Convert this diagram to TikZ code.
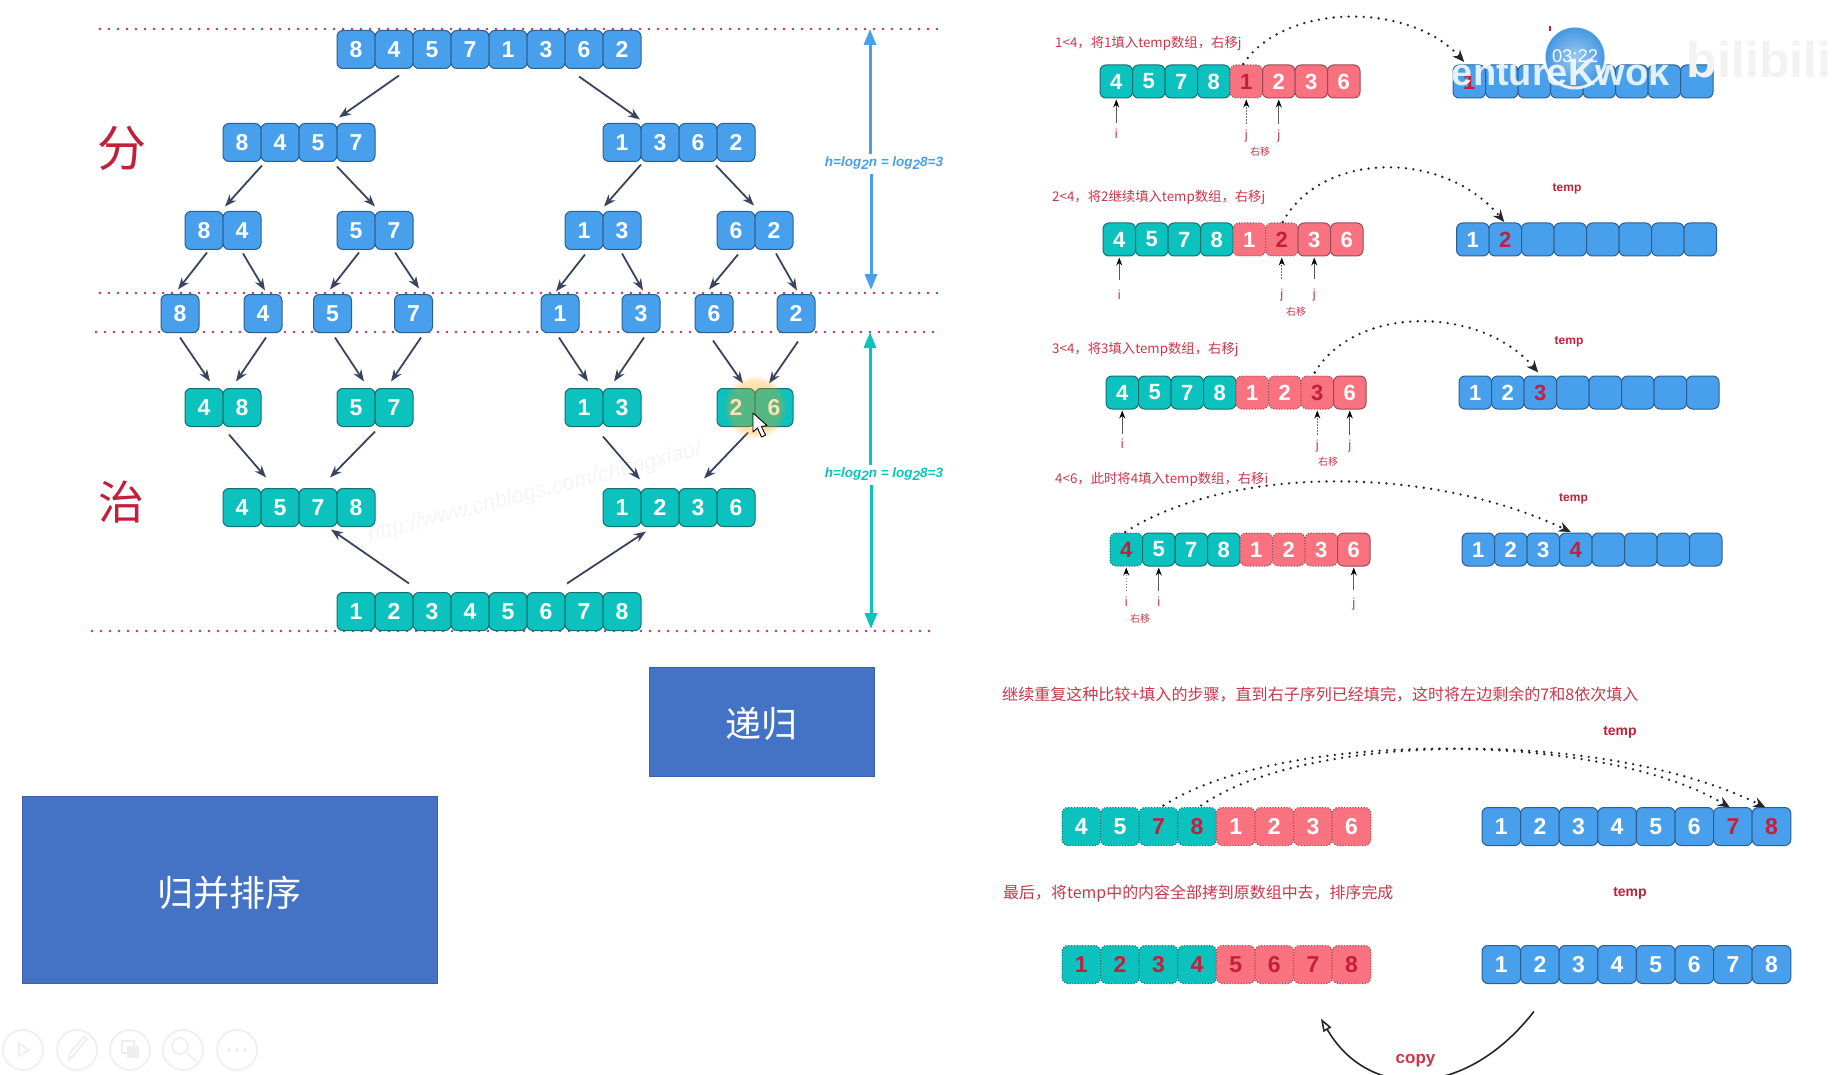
\documentclass[tikz,border=0pt]{standalone}
\usepackage{fontspec}
\setmainfont{Liberation Sans}
\newfontfamily\cjk{Noto Sans CJK SC}
\usetikzlibrary{arrows.meta,fadings}
\definecolor{cblue}{HTML}{489FEC}
\definecolor{cblueb}{HTML}{2B5F92}
\definecolor{cteal}{HTML}{0CC2BE}
\definecolor{ctealb}{HTML}{14706F}
\definecolor{cpink}{HTML}{F8737F}
\definecolor{cpinkb}{HTML}{9A4A55}
\definecolor{cred}{HTML}{C2203A}
\definecolor{ctxt}{HTML}{C8384A}
\definecolor{cdark}{HTML}{3A4460}
\definecolor{cbox}{HTML}{4472C4}
\definecolor{cdots}{HTML}{C2305A}
\definecolor{cfaint}{HTML}{EEEEEE}
\tikzset{
  cuse/.code={\expandafter\tikzset\expandafter{#1}},
  cell/.style={rounded corners=6pt,line width=1pt,inner sep=0pt,outer sep=0pt,text=white},
  cb/.style={fill=cblue,draw=cblueb},
  cbr/.style={fill=cblue,draw=cblueb,text=cred},
  ct/.style={fill=cteal,draw=ctealb},
  ctd/.style={fill=cteal,draw=ctealb,dash pattern=on 1.2pt off 1.6pt},
  ctdr/.style={fill=cteal,draw=ctealb,dash pattern=on 1.2pt off 1.6pt,text=cred},
  cp/.style={fill=cpink,draw=cpinkb},
  cpd/.style={fill=cpink,draw=cpinkb,dash pattern=on 1.2pt off 1.6pt},
  cpdr/.style={fill=cpink,draw=cpinkb,dash pattern=on 1.2pt off 1.6pt,text=cred},
  conn/.style={draw=cdark,line width=1.8pt,-{Stealth[length=12pt,width=9pt]}},
  levelline/.style={draw=cdots,line width=2.7pt,line cap=round,dash pattern=on 0pt off 9pt},
  jump/.style={draw=black!85,line width=2.6pt,line cap=round,dash pattern=on 0pt off 7.5pt,-{Stealth[length=12pt,width=10pt]}},
  psolid/.style={draw=black!65,line width=1pt,-{Stealth[length=8pt,width=6pt,black]}},
  pdot/.style={draw=black!55,line width=.9pt,dash pattern=on 1.5pt off 1.5pt,-{Stealth[length=8pt,width=6pt,black]}},
  plab/.style={text=ctxt,inner sep=0pt,font=\fontsize{13}{13}\selectfont},
  moved/.style={text=ctxt,inner sep=0pt,font=\cjk\fontsize{10}{10}\selectfont},
  note/.style={text=ctxt,inner sep=0pt,anchor=west},
  templab/.style={text=cred,inner sep=0pt,font=\bfseries\fontsize{12}{12}\selectfont},
  bigbox/.style={fill=cbox,draw=cbox!85!black,line width=.6pt,inner sep=0pt,text=white,font=\cjk\fontsize{36}{36}\selectfont,text depth=0pt},
  hlab/.style={inner sep=0pt,font=\bfseries\itshape\fontsize{13.5}{13.5}\selectfont},
  harrow/.style={line width=3pt,-{Triangle[length=16pt,width=12pt]}},
  tool/.style={draw=cfaint,line width=1.6pt},
}
\newcommand{\cellrow}[7]{%
  \foreach \st/\dg [count=\ci] in {#7} {%
    \node[cell,cuse=\st,minimum width=#4pt,minimum height=#5pt,font=\bfseries\fontsize{#6}{#6}\selectfont] (#1\ci) at ({#2+#4*(\ci-0.5)},#3) {\dg};
  }}
\newcommand{\cn}[6]{\draw[conn] ([shift={(#2,#3)}]#1.south) -- ([shift={(#5,#6)}]#4.north);}
\newcommand{\cnu}[6]{\draw[conn] ([shift={(#2,#3)}]#1.north) -- ([shift={(#5,#6)}]#4.south);}
% cell, style, letter, label y, node name, gap below the label
\newcommand{\pointer}[6]{%
  \coordinate (tmpy) at (0,#4);
  \node[plab] (#5) at (#1.south |- tmpy) {#3};
  \draw[#2,shorten <=#6pt,shorten >=1.5pt] (#5.north) -- (#1.south);}
\begin{document}
\begin{tikzpicture}[x=1pt,y=-1pt]
\useasboundingbox (0,0) rectangle (1843,1075);
\clip (0,0) rectangle (1843,1075);
\fill[white] (0,0) rectangle (1843,1075);

% faint page watermark
\node[rotate=14.6,text=black!4,inner sep=0pt,font=\itshape\fontsize{22}{22}\selectfont] (pagemark) at (535,493) {http://www.cnblogs.com/chengxiao/};

% level lines
\coordinate (la) at (100,29); \coordinate (lb) at (943,29);
\coordinate (lc) at (100,293); \coordinate (ld) at (943,293);
\coordinate (le) at (96,332); \coordinate (lf) at (938,332);
\coordinate (lg) at (92,631); \coordinate (lh) at (935,631);
\draw[levelline] (la) -- (lb);
\draw[levelline] (lc) -- (ld);
\draw[levelline] (le) -- (lf);
\draw[levelline] (lg) -- (lh);

% divide tree
\cellrow{t}{337}{49.5}{38}{38}{23}{cb/8,cb/4,cb/5,cb/7,cb/1,cb/3,cb/6,cb/2}
\cellrow{a}{223}{142.5}{38}{38}{23}{cb/8,cb/4,cb/5,cb/7}
\cellrow{b}{603}{142.5}{38}{38}{23}{cb/1,cb/3,cb/6,cb/2}
\cellrow{c}{185}{230.5}{38}{38}{23}{cb/8,cb/4}
\cellrow{d}{337}{230.5}{38}{38}{23}{cb/5,cb/7}
\cellrow{e}{565}{230.5}{38}{38}{23}{cb/1,cb/3}
\cellrow{f}{717}{230.5}{38}{38}{23}{cb/6,cb/2}
\cellrow{gA}{161}{313.5}{38}{38}{23}{cb/8}
\cellrow{gB}{244}{313.5}{38}{38}{23}{cb/4}
\cellrow{gC}{313.5}{313.5}{38}{38}{23}{cb/5}
\cellrow{gD}{394.5}{313.5}{38}{38}{23}{cb/7}
\cellrow{gE}{541}{313.5}{38}{38}{23}{cb/1}
\cellrow{gF}{622}{313.5}{38}{38}{23}{cb/3}
\cellrow{gG}{695}{313.5}{38}{38}{23}{cb/6}
\cellrow{gH}{777}{313.5}{38}{38}{23}{cb/2}
% conquer tree
\cellrow{h}{185}{407.5}{38}{38}{23}{ct/4,ct/8}
\cellrow{i}{337}{407.5}{38}{38}{23}{ct/5,ct/7}
\cellrow{j}{565}{407.5}{38}{38}{23}{ct/1,ct/3}
\cellrow{k}{717}{407.5}{38}{38}{23}{ct/2,ct/6}
\cellrow{m}{223}{507.5}{38}{38}{23}{ct/4,ct/5,ct/7,ct/8}
\cellrow{n}{603}{507.5}{38}{38}{23}{ct/1,ct/2,ct/3,ct/6}
\cellrow{p}{337}{611.5}{38}{38}{23}{ct/1,ct/2,ct/3,ct/4,ct/5,ct/6,ct/7,ct/8}

\cn{t2}{5}{7}{a4}{-17}{-6}
\cn{t7}{-5}{8}{b1}{18}{-4}
\cn{a1}{20}{4}{c1}{21}{-5}
\cn{a3}{19}{5}{d1}{19}{-5}
\cn{b1}{19}{3}{e1}{20}{-5}
\cn{b3}{18}{4}{f1}{18}{-6}
\cn{c1}{3}{3}{gA1}{-2}{-5}
\cn{c2}{1}{4}{gB1}{2}{-4}
\cn{d1}{3}{3}{gC1}{-2.5}{-5}
\cn{d2}{1}{3}{gD1}{5.5}{-6}
\cn{e1}{1}{5}{gE1}{-4}{-3}
\cn{e2}{0}{4}{gF1}{2}{-4}
\cn{f1}{2}{5}{gG1}{-5}{-5}
\cn{f2}{2}{4}{gH1}{1}{-4}
\cn{gA1}{0}{5}{h1}{6}{-7}
\cn{gB1}{3}{5}{h2}{-6}{-7}
\cn{gC1}{2.5}{5}{i1}{8}{-7}
\cn{gD1}{7.5}{5}{i2}{-3}{-7}
\cn{gE1}{-1}{5}{j1}{4}{-7}
\cn{gF1}{3}{5}{j2}{-8}{-7}
\cn{gG1}{-1}{8}{k1}{7}{-5}
\cn{gH1}{2}{9}{k2}{-5}{-5}
\cn{h2}{-13}{8}{m2}{-14}{-11}
\cn{i1}{19}{5}{m3}{12}{-11}
\cn{j1}{19}{10}{n1}{18}{-9}
\cn{k1}{12}{6}{n3}{6}{-10}
\cnu{p2}{15}{-9}{m3}{13}{3}
\cnu{p6}{21}{-9}{n2}{-14}{5}

% height labels and arrows
\node[hlab,text=cblue] (hA) at (884,163.5) {h=log\raisebox{-3pt}{2}n = log\raisebox{-3pt}{2}8=3};
\node[hlab,text=cteal] (hB) at (884,474.5) {h=log\raisebox{-3pt}{2}n = log\raisebox{-3pt}{2}8=3};
\coordinate (hAt) at (870,29); \coordinate (hAb) at (871,290);
\coordinate (hBt) at (870,332); \coordinate (hBb) at (871,629);
\draw[harrow,draw=cblue,fill=cblue,shorten <=3pt] ([xshift=-14pt]hA.north) -- (hAt);
\draw[harrow,draw=cblue,fill=cblue,shorten <=4pt] ([xshift=-13pt]hA.south) -- (hAb);
\draw[harrow,draw=cteal,fill=cteal,shorten <=3pt] ([xshift=-14pt]hB.north) -- (hBt);
\draw[harrow,draw=cteal,fill=cteal,shorten <=4pt] ([xshift=-13pt]hB.south) -- (hBb);

% red characters
\node[inner sep=0pt,text=cred,font=\cjk\fontsize{49}{49}\selectfont] (fen) at (122,148) {分};
\node[inner sep=0pt,text=cred,font=\cjk\fontsize{46}{46}\selectfont] (zhi) at (121,502) {治};

% blue boxes
\node[bigbox,text height=32.5pt,minimum width=225pt,minimum height=109pt] (digui) at (761.5,721.5) {递归};
\node[bigbox,text height=34.5pt,minimum width=415pt,minimum height=187pt] (guibing) at (229.5,889.5) {归并排序};

% step rows
\node[note,font=\cjk\fontsize{13.35}{13.35}\selectfont] (nA) at (1055,43.2) {1<4，将1填入temp数组，右移j};
\cellrow{Aa}{1100}{81.5}{32.5}{33}{22}{ct/4,ct/5,ct/7,ct/8,cpdr/1,cp/2,cp/3,cp/6}
\cellrow{At}{1453}{81.5}{32.5}{33}{22}{cbr/1,cb/{},cb/{},cb/{},cb/{},cb/{},cb/{},cb/{}}
\pointer{Aa1}{psolid}{i}{134}{Ap1}{6}
\pointer{Aa5}{pdot}{j}{136}{Ap2}{6}
\pointer{Aa6}{psolid}{j}{136}{Ap3}{6}
\node[moved] (Am) at (1260,152) {右移};
\draw[jump] ([shift={(-3,-1)}]Aa5.north) .. controls (1285,2) and (1410,2) .. ([shift={(-5,-3)}]At1.north);

\node[note,font=\cjk\fontsize{13.35}{13.35}\selectfont] (nB) at (1052,197.2) {2<4，将2继续填入temp数组，右移j};
\cellrow{Ba}{1103}{239.5}{32.5}{33}{22}{ct/4,ct/5,ct/7,ct/8,cpd/1,cpdr/2,cp/3,cp/6}
\cellrow{Bt}{1456.5}{239.5}{32.5}{33}{22}{cb/1,cbr/2,cb/{},cb/{},cb/{},cb/{},cb/{},cb/{}}
\node[templab] (tB) at (1567,189.3) {temp};
\pointer{Ba1}{psolid}{i}{295}{Bp1}{10}
\pointer{Ba6}{pdot}{j}{295}{Bp2}{10}
\pointer{Ba7}{psolid}{j}{295}{Bp3}{10}
\node[moved] (Bm) at (1296,312) {右移};
\draw[jump] ([shift={(1,-1)}]Ba6.north) .. controls (1322,150) and (1445,150) .. ([shift={(-1,-1)}]Bt2.north);

\node[note,font=\cjk\fontsize{13.35}{13.35}\selectfont] (nC) at (1052,349.5) {3<4，将3填入temp数组，右移j};
\cellrow{Ca}{1106}{392.5}{32.5}{33}{22}{ct/4,ct/5,ct/7,ct/8,cpd/1,cpd/2,cpdr/3,cp/6}
\cellrow{Ct}{1459}{392.5}{32.5}{33}{22}{cb/1,cb/2,cbr/3,cb/{},cb/{},cb/{},cb/{},cb/{}}
\node[templab] (tC) at (1569,342.3) {temp};
\pointer{Ca1}{psolid}{i}{444}{Cp1}{5}
\pointer{Ca7}{pdot}{j}{446}{Cp2}{5}
\pointer{Ca8}{psolid}{j}{446}{Cp3}{5}
\node[moved] (Cm) at (1328,462) {右移};
\draw[jump] ([shift={(-2.5,-3.5)}]Ca7.north) .. controls (1355,305) and (1480,305) .. ([shift={(-2,-3.5)}]Ct3.north);

\node[note,font=\cjk\fontsize{13.35}{13.35}\selectfont] (nD) at (1055,479.2) {4<6，此时将4填入temp数组，右移i};
\cellrow{Da}{1110}{549.5}{32.5}{33}{22}{ctdr/4,ct/5,ct/7,ct/8,cpd/1,cpd/2,cpd/3,cp/6}
\cellrow{Dt}{1462}{549.5}{32.5}{33}{22}{cb/1,cb/2,cb/3,cbr/4,cb/{},cb/{},cb/{},cb/{}}
\node[templab] (tD) at (1573.5,499.3) {temp};
\pointer{Da1}{pdot}{i}{602}{Dp1}{6}
\pointer{Da2}{psolid}{i}{602}{Dp2}{6}
\pointer{Da8}{psolid}{j}{604}{Dp3}{8}
\node[moved] (Dm) at (1140,619) {右移};
\draw[jump] ([shift={(-1,-1)}]Da1.north) .. controls (1230,465) and (1430,465) .. ([shift={(-5,-1)}]Dt4.north);

\node[note,font=\cjk\fontsize{16.04}{16.04}\selectfont] (nE) at (1002,694.2) {继续重复这种比较+填入的步骤，直到右子序列已经填完，这时将左边剩余的7和8依次填入};
\node[templab,font=\bfseries\fontsize{14}{14}\selectfont] (tE) at (1620,732.3) {temp};
\cellrow{Ea}{1062}{826.5}{38.6}{38}{23}{ctd/4,ctd/5,ctdr/7,ctdr/8,cpd/1,cpd/2,cpd/3,cpd/6}
\cellrow{Et}{1482}{826.5}{38.6}{38}{23}{cb/1,cb/2,cb/3,cb/4,cb/5,cb/6,cbr/7,cbr/8}
\draw[jump] ([shift={(5,-2)}]Ea3.north) .. controls (1280,730) and (1600,730) .. ([shift={(-3,0)}]Et7.north);
\draw[jump] ([shift={(4,-2)}]Ea4.north) .. controls (1310,730) and (1610,730) .. ([shift={(-6,0)}]Et8.north);

\node[note,font=\cjk\fontsize{15.95}{15.95}\selectfont] (nF) at (1003,893.2) {最后，将temp中的内容全部拷到原数组中去，排序完成};
\node[templab,font=\bfseries\fontsize{14}{14}\selectfont] (tF) at (1630,893.3) {temp};
\cellrow{Fa}{1062}{964.5}{38.6}{38}{23}{ctdr/1,ctdr/2,ctdr/3,ctdr/4,cpdr/5,cpdr/6,cpdr/7,cpdr/8}
\cellrow{Ft}{1482}{964.5}{38.6}{38}{23}{cb/1,cb/2,cb/3,cb/4,cb/5,cb/6,cb/7,cb/8}
\draw[draw=black!85,line width=1.6pt,-{Triangle[open,length=13pt,width=9pt]}] ([shift={(-6,28)}]Ft2.south) .. controls (1465,1100) and (1368,1100) .. ([shift={(8,35)}]Fa7.south);
\node[inner sep=0pt,text=ctxt,font=\bfseries\fontsize{17}{17}\selectfont] (copy) at (1415.5,1061) {copy};

% video overlay
\fill[cred] (1549,26) rectangle (1551,31);
\node[inner sep=0pt,text=black!5,font=\bfseries\fontsize{50}{50}\selectfont] (bililogo) at (1759,60) {bilibili};
\shade[inner color=cblue!55!white,outer color=cblue!95!black] (1575,57) circle (30);
\draw[white,opacity=.85,line width=3pt] (1575,57) circle (31);
\node[inner sep=0pt,text=white,font=\fontsize{18.4}{18.4}\selectfont] (clock) at (1575,56) {03:22};
\node[inner sep=0pt,text=white,opacity=.85,font=\bfseries\fontsize{38}{38}\selectfont] (uploader) at (1549,72) {VentureKwok};

% highlight and cursor
\fill[orange!75!yellow,opacity=.3,path fading=circle with fuzzy edge 20 percent] (755,407) circle (32);
\draw[fill=white,draw=black,line width=.9pt,line join=round] (753,413) -- (753,432) -- (757.5,428) -- (761.5,437) -- (765.5,435) -- (761.5,426.5) -- (767,425.5) -- cycle;

% player toolbar
\foreach \tx in {23,77,130,183,237} { \draw[tool] (\tx,1050) circle (20); }
\draw[tool] (19,1043) -- (19,1056) -- (29,1050) -- cycle;
\draw[tool] (69,1060) -- (73,1056) -- (87,1039) -- (84,1037) -- (70,1053) -- cycle;
\draw[tool] (122,1041) rectangle (134,1053);
\fill[cfaint] (127,1046) rectangle (139,1058);
\draw[tool] (180,1046) circle (8);
\draw[tool] (186,1052) -- (197,1062);
\fill[cfaint] (229,1050) circle (2) (237,1050) circle (2) (245,1050) circle (2);
\end{tikzpicture}
\end{document}
